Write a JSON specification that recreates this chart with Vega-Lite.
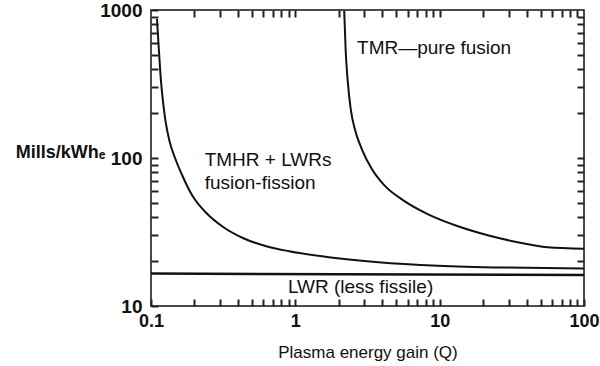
{
  "$schema": "https://vega.github.io/schema/vega-lite/v6.json",
  "width": 433,
  "height": 296,
  "autosize": {"type": "none"},
  "padding": {"left": 151, "top": 10, "right": 16, "bottom": 60},
  "background": "white",
  "config": {
    "view": {"stroke": "#111", "strokeWidth": 1.5},
    "font": "Liberation Sans"
  },
  "datasets": {
    "curves": [
      {"series": "TMHR + LWRs", "q": 0.110, "cost": 870},
      {"series": "TMHR + LWRs", "q": 0.1135, "cost": 530},
      {"series": "TMHR + LWRs", "q": 0.1172, "cost": 333},
      {"series": "TMHR + LWRs", "q": 0.1209, "cost": 244},
      {"series": "TMHR + LWRs", "q": 0.1259, "cost": 179},
      {"series": "TMHR + LWRs", "q": 0.134, "cost": 131.2},
      {"series": "TMHR + LWRs", "q": 0.1463, "cost": 100.8},
      {"series": "TMHR + LWRs", "q": 0.1647, "cost": 76.2},
      {"series": "TMHR + LWRs", "q": 0.1946, "cost": 55.1},
      {"series": "TMHR + LWRs", "q": 0.2429, "cost": 42.3},
      {"series": "TMHR + LWRs", "q": 0.3179, "cost": 34.04},
      {"series": "TMHR + LWRs", "q": 0.4366, "cost": 28.7},
      {"series": "TMHR + LWRs", "q": 0.6285, "cost": 25.35},
      {"series": "TMHR + LWRs", "q": 0.9049, "cost": 23.46},
      {"series": "TMHR + LWRs", "q": 1.706, "cost": 21.38},
      {"series": "TMHR + LWRs", "q": 3.768, "cost": 19.78},
      {"series": "TMHR + LWRs", "q": 9.75, "cost": 18.74},
      {"series": "TMHR + LWRs", "q": 29.57, "cost": 18.17},
      {"series": "TMHR + LWRs", "q": 100, "cost": 17.89},
      {"series": "TMR", "q": 2.181, "cost": 984},
      {"series": "TMR", "q": 2.233, "cost": 530},
      {"series": "TMR", "q": 2.305, "cost": 333},
      {"series": "TMR", "q": 2.417, "cost": 215.4},
      {"series": "TMR", "q": 2.576, "cost": 158.0},
      {"series": "TMR", "q": 2.877, "cost": 115.9},
      {"series": "TMR", "q": 3.373, "cost": 85.0},
      {"series": "TMR", "q": 4.143, "cost": 65.3},
      {"series": "TMR", "q": 5.6, "cost": 51.7},
      {"series": "TMR", "q": 8.322, "cost": 41.6},
      {"series": "TMR", "q": 13.39, "cost": 34.57},
      {"series": "TMR", "q": 21.54, "cost": 30.07},
      {"series": "TMR", "q": 34.64, "cost": 26.98},
      {"series": "TMR", "q": 55.7, "cost": 24.96},
      {"series": "TMR", "q": 100, "cost": 24.39}
    ],
    "lwr": [
      {"series": "LWR", "q": 0.1, "cost": 16.55},
      {"series": "LWR", "q": 100, "cost": 16.17}
    ],
    "centerLabels": [
      {"label": "TMR\u2014pure fusion", "q": 9.15, "cost": 554},
      {"label": "LWR (less fissile)", "q": 2.83, "cost": 13.4}
    ],
    "leftLabels": [
      {"label": "TMHR + LWRs", "q": 0.2353, "cost": 96.5},
      {"label": "fusion-fission", "q": 0.2353, "cost": 68}
    ]
  },
  "layer": [
    {
      "data": {"name": "curves"},
      "mark": {"type": "line", "color": "#111", "strokeWidth": 2, "interpolate": "monotone"},
      "encoding": {
        "x": {
          "field": "q", "type": "quantitative",
          "scale": {"type": "log", "domain": [0.1, 100], "nice": false},
          "axis": {
            "orient": "bottom",
            "values": [0.1,0.2,0.3,0.4,0.5,0.6,0.7,0.8,0.9,1,2,3,4,5,6,7,8,9,10,20,30,40,50,60,70,80,90,100],
            "format": "~g",
            "labelExpr": "(datum.value==0.1||datum.value==1||datum.value==10||datum.value==100) ? datum.label : ''",
            "labelOverlap": false,
            "labelFlush": false,
            "labelFont": "Liberation Sans", "labelFontSize": 18, "labelFontWeight": "bold", "labelColor": "#111",
            "domain": false, "grid": false,
            "tickColor": "#222", "tickWidth": 2,
            "tickSize": -7,
            "labelPadding": 13,
            "title": "Plasma energy gain (Q)",
            "titleFont": "Liberation Sans", "titleFontSize": 17, "titleFontWeight": "normal", "titleColor": "#111",
            "titleY": 46, "titleBaseline": "middle"
          }
        },
        "y": {
          "field": "cost", "type": "quantitative",
          "scale": {"type": "log", "domain": [10, 1000], "nice": false},
          "axis": {
            "orient": "left",
            "values": [10,20,30,40,50,60,70,80,90,100,200,300,400,500,600,700,800,900,1000],
            "format": "~g",
            "labelExpr": "(datum.value==10||datum.value==100||datum.value==1000) ? datum.label : ''",
            "labelOverlap": false,
            "labelFlush": false,
            "labelFont": "Liberation Sans", "labelFontSize": 19, "labelFontWeight": "bold", "labelColor": "#111",
            "domain": false, "grid": false,
            "tickColor": "#222", "tickWidth": 2,
            "tickSize": -7,
            "labelPadding": 16,
            "title": "Mills/kWh\u2091",
            "titleFont": "Liberation Sans", "titleFontSize": 18, "titleFontWeight": "bold", "titleColor": "#111",
            "titleAngle": 0, "titleX": -46, "titleY": 142, "titleAlign": "right", "titleBaseline": "middle"
          }
        },
        "detail": {"field": "series"}
      }
    },
    {
      "data": {"name": "lwr"},
      "mark": {"type": "line", "color": "#111", "strokeWidth": 2.5},
      "encoding": {
        "x": {"field": "q", "type": "quantitative", "scale": {"type": "log", "domain": [0.1, 100], "nice": false}, "axis": null},
        "y": {"field": "cost", "type": "quantitative", "scale": {"type": "log", "domain": [10, 1000], "nice": false}, "axis": null}
      }
    },
    {
      "data": {"name": "centerLabels"},
      "mark": {"type": "text", "font": "Liberation Sans", "fontSize": 19, "color": "#111", "align": "center", "baseline": "middle"},
      "encoding": {
        "x": {
          "field": "q", "type": "quantitative",
          "scale": {"type": "log", "domain": [0.1, 100], "nice": false},
          "axis": {
            "orient": "top",
            "values": [0.2,0.3,0.4,0.5,0.6,0.7,0.8,0.9,1,2,3,4,5,6,7,8,9,10,20,30,40,50,60,70,80,90],
            "labels": false, "domain": false, "grid": false, "title": null,
            "tickColor": "#222", "tickWidth": 2,
            "tickSize": -7
          }
        },
        "y": {
          "field": "cost", "type": "quantitative",
          "scale": {"type": "log", "domain": [10, 1000], "nice": false},
          "axis": {
            "orient": "right",
            "values": [20,30,40,50,60,70,80,90,100,200,300,400,500,600,700,800,900],
            "labels": false, "domain": false, "grid": false, "title": null,
            "tickColor": "#222", "tickWidth": 2,
            "tickSize": -7
          }
        },
        "text": {"field": "label"}
      }
    },
    {
      "data": {"name": "leftLabels"},
      "mark": {"type": "text", "font": "Liberation Sans", "fontSize": 19, "color": "#111", "align": "left", "baseline": "middle"},
      "encoding": {
        "x": {"field": "q", "type": "quantitative", "scale": {"type": "log", "domain": [0.1, 100], "nice": false}, "axis": null},
        "y": {"field": "cost", "type": "quantitative", "scale": {"type": "log", "domain": [10, 1000], "nice": false}, "axis": null},
        "text": {"field": "label"}
      }
    }
  ],
  "resolve": {"axis": {"x": "independent", "y": "independent"}}
}
